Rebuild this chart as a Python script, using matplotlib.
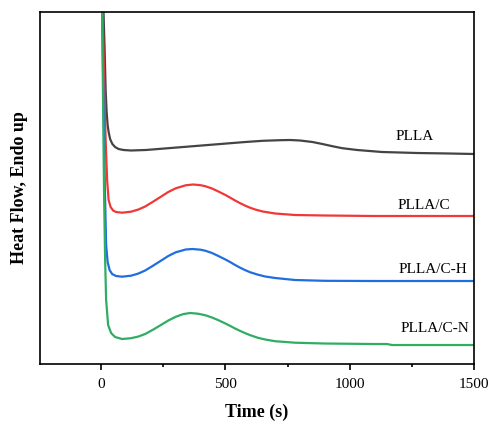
import matplotlib
matplotlib.use("Agg")
import matplotlib.pyplot as plt
from matplotlib.ticker import MultipleLocator

plt.rcParams['font.family'] = ['Liberation Serif', 'DejaVu Serif']

# heat flow curves (arbitrary units, stacked)
t_plla = [0, 8, 14, 18, 22, 26, 30, 36, 45, 56, 70, 90, 120, 180, 280, 380, 480,
          580, 650, 720, 760, 800, 850, 890, 930, 970, 1030, 1080, 1130, 1270,
          1400, 1500]
hf_plla = [4.44, 3.64, 3.14, 2.74, 2.52, 2.39, 2.32, 2.25, 2.20, 2.17, 2.15, 2.14,
           2.135, 2.14, 2.16, 2.18, 2.20, 2.22, 2.232, 2.238, 2.24, 2.235, 2.22,
           2.20, 2.178, 2.158, 2.14, 2.13, 2.12, 2.11, 2.105, 2.10]

t_c = [0, 6, 12, 18, 24, 30, 38, 48, 60, 84, 120, 150, 177, 210, 245, 270, 300,
       340, 370, 400, 420, 446, 470, 500, 520, 539, 560, 580, 600, 620, 650, 700,
       780, 900, 1100, 1300, 1500]
hf_c = [4.64, 3.44, 2.84, 2.24, 1.84, 1.64, 1.57, 1.535, 1.52, 1.513, 1.523, 1.545,
        1.575, 1.625, 1.68, 1.72, 1.757, 1.787, 1.795, 1.788, 1.777, 1.755, 1.727,
        1.69, 1.662, 1.635, 1.607, 1.583, 1.562, 1.545, 1.525, 1.505, 1.49, 1.485,
        1.48, 1.48, 1.48]

t_ch = [0, 5, 10, 15, 20, 26, 34, 44, 60, 84, 120, 150, 177, 210, 245, 270, 300,
        340, 367, 400, 420, 446, 470, 500, 520, 539, 560, 580, 600, 631, 660, 700,
        780, 900, 1100, 1300, 1500]
hf_ch = [4.64, 3.34, 2.54, 1.74, 1.19, 1.02, 0.94, 0.90, 0.88, 0.873, 0.883, 0.905,
         0.935, 0.985, 1.04, 1.08, 1.117, 1.145, 1.15, 1.143, 1.132, 1.11, 1.082,
         1.045, 1.018, 0.99, 0.962, 0.938, 0.917, 0.893, 0.875, 0.86, 0.84, 0.832,
         0.83, 0.83, 0.83]

t_cn = [0, 4, 8, 12, 16, 20, 28, 40, 56, 84, 120, 150, 177, 210, 245, 270, 300,
        330, 358, 390, 420, 446, 470, 500, 520, 539, 560, 580, 600, 631, 660, 700,
        780, 900, 1100, 1150, 1170, 1300, 1500]
hf_cn = [4.64, 3.52, 2.54, 1.64, 1.04, 0.64, 0.39, 0.31, 0.27, 0.25, 0.258, 0.275,
         0.30, 0.345, 0.397, 0.435, 0.472, 0.499, 0.51, 0.503, 0.487, 0.465, 0.44,
         0.405, 0.38, 0.355, 0.33, 0.308, 0.288, 0.262, 0.245, 0.228, 0.213, 0.205,
         0.20, 0.20, 0.19, 0.19, 0.19]

names = ['PLLA', 'PLLA/C', 'PLLA/C-H', 'PLLA/C-N']
label_t = [1263, 1299, 1335, 1343]
label_hf = [2.27, 1.59, 0.95, 0.36]

colors = ['#444444', '#f03838', '#1f6ee0', '#2fae62']

fig = plt.figure(figsize=(4.94, 4.22), dpi=100)
ax = fig.add_axes([0.081, 0.1374, 0.8785, 0.8342])

series = [(t_plla, hf_plla), (t_c, hf_c), (t_ch, hf_ch), (t_cn, hf_cn)]
for (t, hf), c in zip(series, colors):
    ax.plot(t, hf, color=c, lw=1.6)

for name, tx, ty in zip(names, label_t, label_hf):
    ax.text(tx, ty, name, fontsize=11, ha='center', va='center')

ax.set_xlim(-246, 1500)
ax.set_ylim(0, 3.52)
ax.xaxis.set_major_locator(MultipleLocator(500))
ax.xaxis.set_minor_locator(MultipleLocator(250))
ax.set_yticks([])
ax.tick_params(axis='x', which='major', direction='out', length=4, width=1.2, labelsize=11, pad=6)
ax.tick_params(axis='x', which='minor', direction='out', length=2.5, width=1.2)
for s in ax.spines.values():
    s.set_linewidth(1.2)

ax.set_xlabel('Time (s)', fontsize=13, fontweight='bold')
ax.set_ylabel('Heat Flow, Endo up', fontsize=13, fontweight='bold')
ax.xaxis.set_label_coords(0.5, -0.114)
ax.yaxis.set_label_coords(-0.028, 0.5)

fig.savefig('out.png', dpi=100)
